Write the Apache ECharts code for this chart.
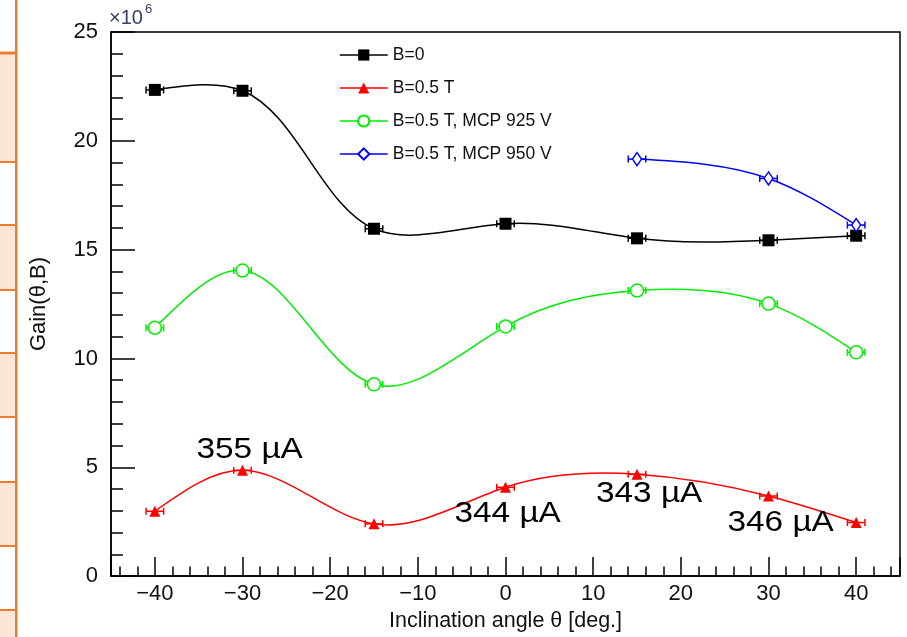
<!DOCTYPE html>
<html>
<head>
<meta charset="utf-8">
<script src="https://cdn.jsdelivr.net/npm/echarts@6/dist/echarts.min.js"></script>
<style>
  html, body { margin: 0; padding: 0; background: #ffffff; }
  #chart { width: 907px; height: 637px; }
</style>
</head>
<body>
<div id="chart"></div>
<script>
// Inclination angles (deg) at which the gain was measured
const angles = [-40, -30, -15, 0, 15, 30, 40];
const anglesMcp950 = [15, 30, 40];

// Gain values in units of 10^6
const gainB0 = [22.34, 22.30, 15.96, 16.19, 15.52, 15.43, 15.64];
const gainB05 = [2.98, 4.86, 2.40, 4.08, 4.68, 3.68, 2.46];
const gainMcp925 = [11.41, 14.04, 8.81, 11.47, 13.12, 12.52, 10.28];
const gainMcp950 = [19.16, 18.27, 16.13];

// Angular uncertainty (± deg) on every point
const angleError = 1;

// Anode currents noted next to the B=0.5 T points
const currentAngles = [-30, 0, 15, 30];
const currentTexts = ['355 µA', '344 µA', '343 µA', '346 µA'];

const seriesNames = ['B=0', 'B=0.5 T', 'B=0.5 T, MCP 925 V', 'B=0.5 T, MCP 950 V'];
const seriesColors = ['#000000', '#ff0000', '#00ee00', '#0000ff'];

const FONT = '"Liberation Sans", Arial, Helvetica, sans-serif';

function pairs(xs, ys) { return xs.map((x, i) => [x, ys[i]]); }

// Natural cubic spline second derivatives for values v over parameters t
function splineM(t, v) {
  const n = v.length;
  const M = new Array(n).fill(0);
  if (n < 3) return M;
  const a = [], b = [], c = [], d = [];
  for (let i = 1; i < n - 1; i++) {
    const h0 = t[i] - t[i - 1], h1 = t[i + 1] - t[i];
    a.push(h0); b.push(2 * (h0 + h1)); c.push(h1);
    d.push(6 * ((v[i + 1] - v[i]) / h1 - (v[i] - v[i - 1]) / h0));
  }
  const m = b.length;
  for (let i = 1; i < m; i++) {
    const w = a[i] / b[i - 1];
    b[i] -= w * c[i - 1];
    d[i] -= w * d[i - 1];
  }
  const sol = new Array(m);
  sol[m - 1] = d[m - 1] / b[m - 1];
  for (let i = m - 2; i >= 0; i--) sol[i] = (d[i] - c[i] * sol[i + 1]) / b[i];
  for (let i = 0; i < m; i++) M[i + 1] = sol[i];
  return M;
}

// Smooth curve through the measured points (parametric natural spline in screen space)
function curveRenderer(xs, ys, color) {
  return function (params, api) {
    if (params.dataIndex !== 0) return null;
    const pts = xs.map((x, i) => api.coord([x, ys[i]]));
    const t = [0];
    for (let i = 1; i < pts.length; i++) {
      t.push(t[i - 1] + Math.hypot(pts[i][0] - pts[i - 1][0], pts[i][1] - pts[i - 1][1]));
    }
    const px = pts.map(p => p[0]), py = pts.map(p => p[1]);
    const Mx = splineM(t, px), My = splineM(t, py);
    let path = 'M' + px[0] + ' ' + py[0];
    for (let i = 0; i < pts.length - 1; i++) {
      const h = t[i + 1] - t[i];
      const dx0 = (px[i + 1] - px[i]) / h - h * (2 * Mx[i] + Mx[i + 1]) / 6;
      const dy0 = (py[i + 1] - py[i]) / h - h * (2 * My[i] + My[i + 1]) / 6;
      const dx1 = (px[i + 1] - px[i]) / h + h * (Mx[i] + 2 * Mx[i + 1]) / 6;
      const dy1 = (py[i + 1] - py[i]) / h + h * (My[i] + 2 * My[i + 1]) / 6;
      path += ' C' + (px[i] + dx0 * h / 3) + ' ' + (py[i] + dy0 * h / 3) + ' ' +
        (px[i + 1] - dx1 * h / 3) + ' ' + (py[i + 1] - dy1 * h / 3) + ' ' +
        px[i + 1] + ' ' + py[i + 1];
    }
    return {
      type: 'path',
      shape: { pathData: path },
      style: { stroke: color, lineWidth: 1.5, fill: null }
    };
  };
}

function errorBars(color) {
  return function (params, api) {
    const x = api.value(0), y = api.value(1);
    const l = api.coord([x - angleError, y]);
    const r = api.coord([x + angleError, y]);
    const cap = 3.5;
    const style = { stroke: color, lineWidth: 1.5, fill: null };
    return {
      type: 'group',
      children: [
        { type: 'line', shape: { x1: l[0], y1: l[1], x2: r[0], y2: r[1] }, style: style },
        { type: 'line', shape: { x1: l[0], y1: l[1] - cap, x2: l[0], y2: l[1] + cap }, style: style },
        { type: 'line', shape: { x1: r[0], y1: r[1] - cap, x2: r[0], y2: r[1] + cap }, style: style }
      ]
    };
  };
}

// Markers (the connecting curve is drawn separately)
function markerSeries(name, xs, ys, color, symbol, size, hollow) {
  return {
    name: name,
    type: 'line',
    data: pairs(xs, ys),
    symbol: symbol,
    symbolSize: size,
    showAllSymbol: true,
    z: 4,
    lineStyle: { color: color, width: 1.5, opacity: 0 },
    itemStyle: hollow
      ? { color: '#ffffff', borderColor: color, borderWidth: 1.5 }
      : { color: color, borderColor: color, borderWidth: 0 },
    emphasis: { disabled: true },
    animation: false
  };
}

function curveSeries(xs, ys, color) {
  return {
    type: 'custom',
    data: pairs(xs, ys),
    renderItem: curveRenderer(xs, ys, color),
    z: 2, silent: true, animation: false
  };
}

function errorSeries(xs, ys, color) {
  return {
    type: 'custom',
    data: pairs(xs, ys),
    renderItem: errorBars(color),
    z: 3, silent: true, animation: false
  };
}

// Decorative table edge on the left side of the page
const stripBands = [[53, 162], [225, 290], [353, 417], [482, 546], [610, 637]];
const stripRules = [53, 162, 225, 290, 353, 417, 482, 546, 610];
const stripGraphics = [];
stripBands.forEach(function (b) {
  stripGraphics.push({ type: 'rect', shape: { x: 0, y: b[0], width: 16, height: b[1] - b[0] },
    style: { fill: '#fbe5d6' }, silent: true });
});
stripRules.forEach(function (y, i) {
  stripGraphics.push({ type: 'rect', shape: { x: 0, y: y - (i === 0 ? 1.5 : 1), width: 17, height: i === 0 ? 3 : 2 },
    style: { fill: '#ed7d31' }, silent: true });
});
stripGraphics.push({ type: 'rect', shape: { x: 15, y: 0, width: 2.5, height: 637 },
  style: { fill: '#ed7d31' }, silent: true });

// Axis exponent marker "×10^6" above the y axis
const exponentGraphics = [
  { type: 'text', left: 109, top: 8, silent: true,
    style: { text: '×10', fontFamily: FONT, fontSize: 20, fill: '#3a4060' } },
  { type: 'text', left: 145, top: 3, silent: true,
    style: { text: '6', fontFamily: FONT, fontSize: 13, fill: '#3a4060' } }
];

const chart = echarts.init(document.getElementById('chart'), null, { renderer: 'canvas' });

const tickStyle = { color: '#000000', width: 1.5 };

chart.setOption({
  backgroundColor: '#ffffff',
  animation: false,
  grid: {
    left: 111, right: 7, top: 32, bottom: 60,
    show: true, borderColor: '#000000', borderWidth: 1.5, backgroundColor: 'transparent'
  },
  legend: {
    orient: 'vertical',
    left: 334, top: 41,
    itemWidth: 48, itemHeight: 14, itemGap: 15,
    data: seriesNames.map((n, i) => ({
      name: n,
      lineStyle: { color: seriesColors[i], width: 1.5, opacity: 1 }
    })),
    textStyle: { fontFamily: FONT, fontSize: 17.5, color: '#111111' },
    selectedMode: false
  },
  xAxis: {
    type: 'value',
    min: -45, max: 45, splitNumber: 9,
    name: 'Inclination angle θ [deg.]',
    nameLocation: 'middle', nameGap: 31,
    nameTextStyle: { fontFamily: FONT, fontSize: 21.5, color: '#111111' },
    axisLine: { show: true, onZero: false, lineStyle: tickStyle },
    axisTick: { show: true, inside: true, length: 19, lineStyle: tickStyle },
    minorTick: { show: true, splitNumber: 5, length: 9.5, lineStyle: tickStyle },
    splitLine: { show: false },
    axisLabel: {
      fontFamily: FONT, fontSize: 22, color: '#111111', margin: 7,
      showMinLabel: false, showMaxLabel: false,
      formatter: function (v) { return v < 0 ? '\u2212' + Math.abs(v) : String(v); }
    }
  },
  yAxis: {
    type: 'value',
    min: 0, max: 25, interval: 5,
    name: 'Gain(θ,B)',
    nameLocation: 'middle', nameGap: 61,
    nameTextStyle: { fontFamily: FONT, fontSize: 22, color: '#111111' },
    axisLine: { show: true, onZero: false, lineStyle: tickStyle },
    axisTick: { show: true, inside: true, length: 24, lineStyle: tickStyle },
    minorTick: { show: true, splitNumber: 5, length: 12, lineStyle: tickStyle },
    splitLine: { show: false },
    axisLabel: { fontFamily: FONT, fontSize: 22, color: '#111111', margin: 13 }
  },
  series: [
    curveSeries(angles, gainB0, seriesColors[0]),
    curveSeries(angles, gainB05, seriesColors[1]),
    curveSeries(angles, gainMcp925, seriesColors[2]),
    curveSeries(anglesMcp950, gainMcp950, seriesColors[3]),
    errorSeries(angles, gainB0, seriesColors[0]),
    errorSeries(angles, gainB05, seriesColors[1]),
    errorSeries(angles, gainMcp925, seriesColors[2]),
    errorSeries(anglesMcp950, gainMcp950, seriesColors[3]),
    markerSeries(seriesNames[0], angles, gainB0, seriesColors[0], 'rect', 12, false),
    markerSeries(seriesNames[1], angles, gainB05, seriesColors[1], 'triangle', 11, false),
    markerSeries(seriesNames[2], angles, gainMcp925, seriesColors[2], 'circle', 13, true),
    markerSeries(seriesNames[3], anglesMcp950, gainMcp950, seriesColors[3], 'diamond', [9, 13], true)
  ],
  graphic: stripGraphics.concat(exponentGraphics)
});

// Place the current notes beside their B=0.5 T points
const noteOffsets = [[-46, -20], [-51, 27], [-41, 20], [-41, 27]];
const notes = currentAngles.map(function (a, i) {
  const idx = angles.indexOf(a);
  const p = chart.convertToPixel({ gridIndex: 0 }, [a, gainB05[idx]]);
  return {
    type: 'text', silent: true, z: 10,
    x: p[0] + noteOffsets[i][0], y: p[1] + noteOffsets[i][1],
    scaleX: 1.15,
    style: { text: currentTexts[i], fontFamily: FONT, fontSize: 29, fill: '#000000',
      textAlign: 'left', textVerticalAlign: 'middle' }
  };
});
chart.setOption({ graphic: stripGraphics.concat(exponentGraphics).concat(notes) });
</script>
</body>
</html>
